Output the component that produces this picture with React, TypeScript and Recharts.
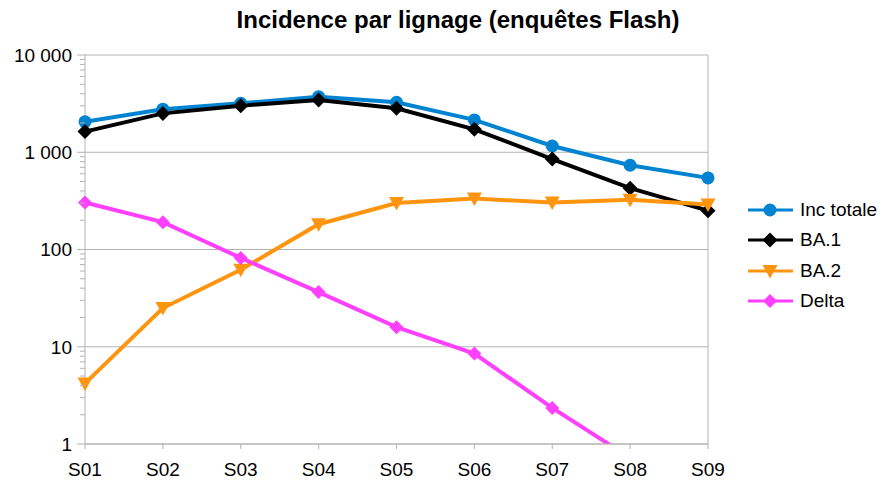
import React from 'react'
import { LineChart, Line, XAxis, YAxis, Legend, ReferenceLine } from 'recharts'

const weeks = ['S01', 'S02', 'S03', 'S04', 'S05', 'S06', 'S07', 'S08', 'S09']
const incTotale = [2060, 2770, 3190, 3730, 3260, 2150, 1160, 735, 545]
const ba1 = [1630, 2510, 3010, 3450, 2830, 1720, 850, 427, 251]
const ba2 = [4.2, 25, 62, 182, 300, 334, 304, 324, 290]
const delta: (number | null)[] = [304, 191, 82, 36.5, 15.9, 8.5, 2.35, 0.72, null]

const majorTicks = [1, 10, 100, 1000, 10000]
const minorSteps = [2, 3, 4, 5, 6, 7, 8, 9]
const yTicks = majorTicks.flatMap((m) => (m < 10000 ? [m, ...minorSteps.map((s) => s * m)] : [m]))

const FONT = '"Liberation Sans", Arial, sans-serif'
const GRID = '#b3b3b3'

const series = [
  { key: 'inc', name: 'Inc totale', color: '#0084d1', shape: 'circle' },
  { key: 'ba1', name: 'BA.1', color: '#000000', shape: 'diamond' },
  { key: 'ba2', name: 'BA.2', color: '#ff950e', shape: 'triangle' },
  { key: 'delta', name: 'Delta', color: '#ff40ff', shape: 'diamondSmall' },
]

const data = weeks.map((w, i) => ({
  week: w,
  inc: incTotale[i],
  ba1: ba1[i],
  ba2: ba2[i],
  delta: delta[i],
}))

function Marker({ shape, color, cx, cy }: { shape: string; color: string; cx: number; cy: number }) {
  if (shape === 'circle') return <circle cx={cx} cy={cy} r={6.5} fill={color} />
  if (shape === 'triangle')
    return <path d={`M${cx - 7.5},${cy - 6} L${cx + 7.5},${cy - 6} L${cx},${cy + 7.5} Z`} fill={color} />
  const s = shape === 'diamond' ? 7.5 : 7
  return <path d={`M${cx},${cy - s} L${cx + s},${cy} L${cx},${cy + s} L${cx - s},${cy} Z`} fill={color} />
}

function makeDot(shape: string, color: string) {
  return (props: any) => {
    const { cx, cy, value, index } = props
    if (value == null || value < 1 || cx == null || cy == null) return <g key={index} />
    return <Marker key={index} shape={shape} color={color} cx={cx} cy={cy} />
  }
}

function fmt(v: number) {
  return String(v).replace(/\B(?=(\d{3})+(?!\d))/g, ' ')
}

function YTick(props: any) {
  const { x, y, payload } = props
  const v = payload.value
  const major = majorTicks.includes(v)
  return (
    <g>
      <line x1={x - (major ? 8 : 5)} x2={x} y1={y} y2={y} stroke={GRID} strokeWidth={1} />
      {major && (
        <text x={x - 13} y={y} dy="0.36em" textAnchor="end" fontSize={19} fill="#000" fontFamily={FONT}>
          {fmt(v)}
        </text>
      )}
    </g>
  )
}

function LegendContent() {
  return (
    <div style={{ fontFamily: FONT, fontSize: 19, color: '#000' }}>
      {series.map((s) => (
        <div key={s.key} style={{ display: 'flex', alignItems: 'center', height: 30.3 }}>
          <svg width={50} height={20} style={{ display: 'block' }}>
            <line x1={2} x2={47} y1={10} y2={10} stroke={s.color} strokeWidth={3} />
            <Marker shape={s.shape} color={s.color} cx={24} cy={10} />
          </svg>
          <span style={{ marginLeft: 4 }}>{s.name}</span>
        </div>
      ))}
    </div>
  )
}

export default function App() {
  return (
    <div style={{ position: 'relative', width: 886, height: 497, background: '#fff', fontFamily: FONT }}>
      <style>{'body{margin:0}'}</style>
      <div
        style={{
          position: 'absolute',
          top: 5,
          left: 0,
          width: 916,
          textAlign: 'center',
          fontSize: 24,
          lineHeight: '30px',
          fontWeight: 'bold',
          color: '#000',
        }}
      >
        Incidence par lignage (enquêtes Flash)
      </div>
      <LineChart
        width={886}
        height={497}
        data={data}
        margin={{ top: 55, right: 178, left: 0, bottom: 13 }}
      >
        {majorTicks.map((t) => (
          <ReferenceLine key={t} y={t} stroke={GRID} />
        ))}
        <ReferenceLine x="S09" stroke={GRID} />
        <XAxis
          dataKey="week"
          height={40}
          stroke={GRID}
          tickSize={5}
          tickMargin={14}
          tick={{ fontSize: 19, fill: '#000', fontFamily: FONT }}
          interval={0}
        />
        <YAxis
          scale="log"
          domain={[1, 10000]}
          allowDataOverflow
          ticks={yTicks}
          interval={0}
          width={85}
          stroke={GRID}
          tickSize={0}
          tickMargin={0}
          tickLine={false}
          tick={<YTick />}
        />
        <Legend
          layout="vertical"
          align="center"
          verticalAlign="middle"
          content={<LegendContent />}
          wrapperStyle={{ left: 746, top: 195, width: 140 }}
        />
        {series.map((s) => (
          <Line
            key={s.key}
            dataKey={s.key}
            name={s.name}
            stroke={s.color}
            strokeWidth={4}
            dot={makeDot(s.shape, s.color)}
            activeDot={false}
            isAnimationActive={false}
            connectNulls={false}
          />
        ))}
      </LineChart>
    </div>
  )
}
